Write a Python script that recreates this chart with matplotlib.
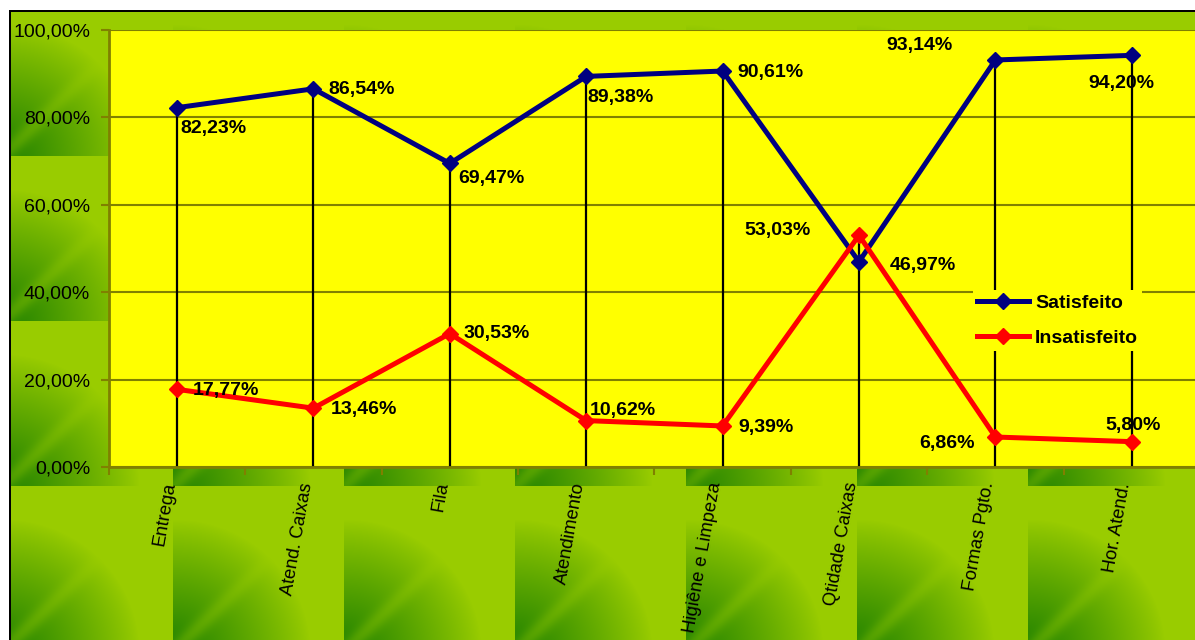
import numpy as np
import matplotlib
matplotlib.use("Agg")
import matplotlib.pyplot as plt
from matplotlib.lines import Line2D

# ---------------- data ----------------
categories = ["Entrega", "Atend. Caixas", "Fila", "Atendimento",
              "Higiêne e Limpeza", "Qtidade Caixas", "Formas Pgto.", "Hor. Atend."]
satisfeito = [82.23, 86.54, 69.47, 89.38, 90.61, 46.97, 93.14, 94.20]
insatisfeito = [17.77, 13.46, 30.53, 10.62, 9.39, 53.03, 6.86, 5.80]
series_names = ["Satisfeito", "Insatisfeito"]
y_ticks = [0, 20, 40, 60, 80, 100]
y_tick_labels = ["0,00%", "20,00%", "40,00%", "60,00%", "80,00%", "100,00%"]

# ---------------- layout / style ----------------
W, H = 1195, 640
plt.rcParams['font.family'] = ['Liberation Sans', 'DejaVu Sans']

# label placement (pixel offsets: dx right, dy down, horizontal alignment)
sat_label_pos = [(3, 21, 'left'), (15, 1, 'left'), (8, 15, 'left'), (1, 21, 'left'),
                 (15, 1, 'left'), (31, 4, 'left'), (-43, -14, 'right'), (-10, 28, 'center')]
ins_label_pos = [(16, 1, 'left'), (17, 1, 'left'), (14, 0, 'left'), (4, -10, 'left'),
                 (16, 2, 'left'), (-48, -5, 'right'), (-21, 6, 'right'), (1, -16, 'center')]

# ---------------- background texture ----------------
dark = np.array([30, 128, 0]) / 255.0
light = np.array([153, 204, 0]) / 255.0
tile_w, tile_h = 171, 165
x0, y0 = 2, -9
xs = np.arange(W)
ys = np.arange(H)
u = ((xs - x0) % tile_w) / tile_w          # 0 left -> 1 right
v = 1 - ((ys - y0) % tile_h) / tile_h      # 0 bottom -> 1 top
U, V = np.meshgrid(u, v)
r = np.sqrt(U ** 2 + V ** 2)
d = np.clip(1 - r / 0.8, 0, 1) ** 0.9
d = d * (1 - 0.35 * np.exp(-((U - V) / 0.07) ** 2))
img = light[None, None, :] * (1 - d[..., None]) + dark[None, None, :] * d[..., None]
# white margin and black border
img[:10, :, :] = 1.0
img[:, :9, :] = 1.0
img[10:12, 9:, :] = 0.0
img[10:, 9:11, :] = 0.0

fig = plt.figure(figsize=(W / 100, H / 100), dpi=100)
bg = fig.add_axes([0, 0, 1, 1], zorder=0)
bg.imshow(img, aspect='auto', interpolation='nearest')
bg.axis('off')

# ---------------- main axes ----------------
left_px, right_px, top_px, bot_px = 108.8, 1200.0, 30.0, 467.0
ax = fig.add_axes([left_px / W, 1 - bot_px / H, (right_px - left_px) / W,
                   (bot_px - top_px) / H], zorder=1)
ax.set_facecolor('#ffff00')
n = len(categories)
x = np.arange(n)
ax.set_xlim(-0.5, n - 0.5)
ax.set_ylim(0, 100)

olive = '#808000'
for s in ['top', 'right']:
    ax.spines[s].set_visible(False)
for s in ['left', 'bottom']:
    ax.spines[s].set_color(olive)
    ax.spines[s].set_linewidth(2)

ax.set_yticks(y_ticks)
ax.set_yticklabels(y_tick_labels, fontsize=14)
ax.tick_params(axis='y', direction='out', length=6, width=1.5, color=olive, pad=7.5)
ax.yaxis.grid(True, color=olive, linewidth=1.5)
ax.set_axisbelow(True)

ax.set_xticks(np.arange(n + 1) - 0.5)
ax.set_xticklabels([])
ax.tick_params(axis='x', direction='out', length=6, width=1.5, color=olive)

# drop lines
tops = np.maximum(satisfeito, insatisfeito)
ax.vlines(x, 0, tops, colors='black', linewidth=1.6, zorder=2)

ax.plot(x, satisfeito, color='#000080', linewidth=3.6, marker='D', markersize=8,
        zorder=3, clip_on=False)
ax.plot(x, insatisfeito, color='#ff0000', linewidth=3.6, marker='D', markersize=8,
        zorder=3, clip_on=False)

def fmt(v):
    return f"{v:.2f}".replace('.', ',') + '%'

for vals, pos in ((satisfeito, sat_label_pos), (insatisfeito, ins_label_pos)):
    for i, (val, (dx, dy, ha)) in enumerate(zip(vals, pos)):
        ax.annotate(fmt(val), xy=(i, val), xytext=(dx, -dy), textcoords='offset pixels',
                    ha=ha, va='center', fontsize=14, fontweight='bold', color='black',
                    zorder=5, annotation_clip=False)

# category labels
for i, cat in enumerate(categories):
    ax.annotate(cat, xy=(i, 0), xytext=(2, -17), textcoords='offset pixels',
                rotation=80, rotation_mode='anchor', ha='right', va='bottom',
                fontsize=13.2, color='black', annotation_clip=False)

# legend
handles = [Line2D([], [], color='#000080', linewidth=3.6, marker='D', markersize=8),
           Line2D([], [], color='#ff0000', linewidth=3.6, marker='D', markersize=8)]
leg = ax.legend(handles, series_names, loc='upper left',
                bbox_to_anchor=(973 / W, 1 - 290 / H), bbox_transform=fig.transFigure,
                frameon=True, facecolor='#ffff00', edgecolor='none', framealpha=1,
                fancybox=False, borderaxespad=0, borderpad=0.2, handlelength=2.7,
                handletextpad=0.3, labelspacing=0.9,
                prop={'size': 14, 'weight': 'bold'})

fig.savefig('out.png', dpi=100)
